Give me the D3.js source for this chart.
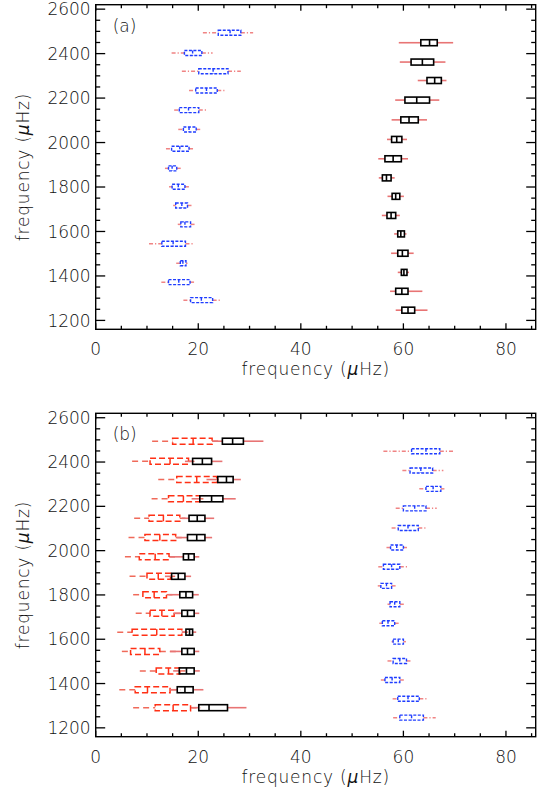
<!DOCTYPE html>
<html>
<head>
<meta charset="utf-8">
<script src="https://cdn.jsdelivr.net/npm/d3@7"></script>
<style>
  body { margin: 0; background: #fff; }
  text { font-family: "DejaVu Sans", sans-serif; font-weight: 300; fill: #111; }
</style>
</head>
<body>
<div id="chart"></div>
<script>
// figure size
const width = 541;
const height = 794;

// mode frequencies (rows), muHz
const freqL0 = [1291, 1372, 1457, 1545, 1632, 1717, 1801, 1884, 1972, 2059, 2146, 2234, 2321, 2403, 2494];
const freqL1 = [1246, 1331, 1416, 1502, 1589, 1672, 1758, 1841, 1927, 2014, 2102, 2191, 2279, 2362, 2449];

// each entry: [whisker low, q1, median, q3, whisker high]
const aBlue = [
  [17.1, 18.5, 20.6, 22.8, 24.2], [12.8, 14.2, 16.2, 18.4, 19.4], [15.7, 16.5, 17.0, 17.6, 17.9],
  [10.4, 12.9, 15.1, 17.5, 19.0], [16.0, 16.6, 17.4, 18.5, 19.4], [15.1, 15.6, 16.8, 17.9, 18.8],
  [14.3, 14.9, 16.1, 17.4, 18.4], [13.5, 14.2, 14.9, 15.8, 16.6], [13.7, 14.8, 16.4, 18.2, 19.0],
  [16.1, 17.1, 18.2, 19.6, 20.7], [15.3, 16.3, 18.1, 20.1, 21.8], [18.2, 19.5, 21.6, 23.7, 25.2],
  [16.8, 20.1, 22.9, 25.8, 28.3], [14.8, 17.3, 18.9, 20.7, 22.8], [20.9, 23.9, 26.2, 28.3, 30.7]
];
const aBlack = [
  [58.5, 59.7, 60.9, 62.2, 64.7], [57.4, 58.5, 59.7, 60.9, 63.7], [58.9, 59.6, 60.1, 60.7, 61.1],
  [57.6, 58.9, 59.8, 60.9, 62.0], [58.2, 58.9, 59.5, 60.2, 60.6], [55.8, 56.8, 57.6, 58.5, 59.3],
  [56.9, 57.8, 58.5, 59.3, 60.1], [55.2, 55.9, 56.7, 57.6, 58.3], [55.1, 56.4, 58.0, 59.6, 60.9],
  [56.8, 57.7, 58.7, 59.7, 60.7], [57.7, 59.5, 61.1, 62.9, 64.6], [58.4, 60.3, 62.6, 65.1, 67.0],
  [62.8, 64.6, 66.1, 67.4, 68.4], [59.3, 61.5, 63.7, 65.9, 68.2], [59.1, 63.4, 65.1, 66.6, 69.7]
];
const bRed = [
  [7.3, 11.6, 15.1, 18.5, 20.5], [4.6, 7.7, 10.1, 14.5, 16.5], [8.6, 11.8, 14.2, 16.4, 17.5],
  [5.1, 6.8, 9.6, 12.5, 16.0], [4.2, 7.1, 11.9, 16.8, 18.0], [7.8, 10.6, 12.9, 15.3, 16.5],
  [7.3, 9.2, 11.4, 13.8, 15.5], [6.6, 10.0, 12.2, 14.6, 15.5], [5.7, 8.5, 11.6, 14.3, 16.0],
  [6.4, 9.6, 12.5, 15.6, 17.0], [7.5, 10.4, 13.2, 16.4, 17.5], [10.9, 14.2, 17.1, 20.3, 21.0],
  [12.2, 15.8, 19.7, 23.6, 24.0], [7.1, 10.6, 14.5, 18.1, 19.5], [11.0, 15.0, 19.0, 22.7, 24.0]
];
const bBlack = [
  [18.7, 20.1, 22.1, 25.7, 29.4], [14.5, 15.9, 17.4, 19.0, 21.0], [15.1, 16.3, 17.7, 19.2, 20.3],
  [14.5, 16.8, 17.9, 19.2, 20.2], [16.8, 17.6, 18.3, 18.9, 19.6], [15.1, 16.8, 17.9, 19.2, 20.2],
  [14.2, 16.4, 17.6, 18.9, 20.1], [13.5, 14.8, 16.1, 17.4, 18.6], [14.5, 17.1, 18.1, 19.2, 20.2],
  [15.8, 17.9, 19.7, 21.3, 22.7], [16.8, 18.2, 19.8, 21.3, 23.1], [18.7, 20.3, 22.6, 24.8, 27.3],
  [21.6, 23.8, 25.5, 26.8, 28.3], [17.4, 18.9, 20.8, 22.6, 24.7], [22.9, 24.7, 26.7, 28.8, 32.7]
];
const bBlue = [
  [58.0, 59.3, 61.6, 63.9, 66.3], [57.9, 58.9, 60.9, 63.1, 64.5], [55.6, 56.4, 57.8, 59.3, 60.2],
  [56.9, 58.0, 59.3, 60.6, 61.6], [57.7, 58.0, 59.0, 60.0, 60.5], [55.3, 55.9, 57.0, 58.3, 59.2],
  [56.9, 57.4, 58.3, 59.3, 60.2], [55.0, 55.6, 56.7, 57.7, 58.5], [55.1, 56.1, 57.7, 59.3, 60.8],
  [56.7, 57.5, 58.7, 60.0, 60.7], [57.7, 59.0, 60.9, 62.9, 64.3], [58.5, 60.0, 62.2, 64.4, 66.5],
  [63.1, 64.4, 65.8, 67.3, 68.0], [59.8, 61.3, 63.4, 65.7, 67.8], [56.1, 61.6, 64.4, 67.1, 70.0]
];

const xTicks = [0, 20, 40, 60, 80];
const yTicks = [1200, 1400, 1600, 1800, 2000, 2200, 2400, 2600];

// box styles
const styles = {
  black: { box: "#000", boxW: 1.6, boxDash: null, h: 6, wh: "#e87474", whW: 1.6, whDash: null },
  blue:  { box: "#1f3dff", boxW: 1.4, boxDash: "3,1.5", h: 5, wh: "#f08484", whW: 1.5, whDash: "4,2,1.2,2" },
  red:   { box: "#ff3015", boxW: 1.5, boxDash: "6,3", h: 6, wh: "#f06a5a", whW: 1.5, whDash: "6,4" }
};

const svg = d3.select("div#chart")
    .append("svg")
    .attr("width", width)
    .attr("height", height);

const margin = { left: 95.7, right: 5.3 };

const x = d3.scaleLinear()
    .domain([0, 85.8])
    .range([margin.left, width - margin.right]);

// "frequency (μHz)" with italic mu
function axisTitle(t) {
    t.append("tspan").text("frequency (");
    t.append("tspan").attr("font-style", "italic").text("\u03bc");
    t.append("tspan").text("Hz)");
}

function drawBoxes(g, y, freqs, data, st) {
    const rows = g.append("g").selectAll("g")
        .data(data.map((d, i) => ({ f: freqs[i], v: d })))
        .enter()
        .append("g");

    // whiskers
    rows.append("line")
        .attr("x1", d => x(d.v[0])).attr("x2", d => x(d.v[1]))
        .attr("y1", d => y(d.f)).attr("y2", d => y(d.f))
        .attr("stroke", st.wh).attr("stroke-width", st.whW)
        .attr("stroke-dasharray", st.whDash);
    rows.append("line")
        .attr("x1", d => x(d.v[3])).attr("x2", d => x(d.v[4]))
        .attr("y1", d => y(d.f)).attr("y2", d => y(d.f))
        .attr("stroke", st.wh).attr("stroke-width", st.whW)
        .attr("stroke-dasharray", st.whDash);

    // box + median
    rows.append("rect")
        .attr("x", d => x(d.v[1]))
        .attr("width", d => x(d.v[3]) - x(d.v[1]))
        .attr("y", d => y(d.f) - st.h / 2)
        .attr("height", st.h)
        .attr("fill", "none")
        .attr("stroke", st.box).attr("stroke-width", st.boxW)
        .attr("stroke-dasharray", st.boxDash);
    rows.append("line")
        .attr("x1", d => x(d.v[2])).attr("x2", d => x(d.v[2]))
        .attr("y1", d => y(d.f) - st.h / 2).attr("y2", d => y(d.f) + st.h / 2)
        .attr("stroke", st.box).attr("stroke-width", st.boxW)
        .attr("stroke-dasharray", st.boxDash);
}

function drawPanel(top, bottom, label, groups) {
    const g = svg.append("g");
    const y = d3.scaleLinear()
        .domain([1160, 2620])
        .range([bottom, top]);

    groups.forEach(gr => drawBoxes(g, y, gr.freqs, gr.data, styles[gr.style]));

    // frame
    g.append("rect")
        .attr("x", x.range()[0]).attr("y", top)
        .attr("width", x.range()[1] - x.range()[0])
        .attr("height", bottom - top)
        .attr("fill", "none").attr("stroke", "#000").attr("stroke-width", 1.4);

    // ticks (inward, on all four sides)
    const xMinor = d3.range(0, 86, 5);
    const yMinor = d3.range(1200, 2620, 50);
    const tk = g.append("g").attr("stroke", "#000").attr("stroke-width", 1.3);
    xMinor.forEach(v => {
        const len = v % 20 === 0 ? 6 : 3.5;
        tk.append("line").attr("x1", x(v)).attr("x2", x(v)).attr("y1", bottom).attr("y2", bottom - len);
        tk.append("line").attr("x1", x(v)).attr("x2", x(v)).attr("y1", top).attr("y2", top + len);
    });
    yMinor.forEach(v => {
        const len = v % 200 === 0 ? 9.5 : 4.5;
        tk.append("line").attr("y1", y(v)).attr("y2", y(v)).attr("x1", x.range()[0]).attr("x2", x.range()[0] + len);
        tk.append("line").attr("y1", y(v)).attr("y2", y(v)).attr("x1", x.range()[1]).attr("x2", x.range()[1] - len);
    });

    // tick labels
    g.selectAll(".xl").data(xTicks).enter().append("text")
        .attr("x", d => x(d)).attr("y", bottom + 26)
        .attr("text-anchor", "middle").attr("font-size", 17)
        .text(d => d);
    g.selectAll(".yl").data(yTicks).enter().append("text")
        .attr("x", x.range()[0] - 5).attr("y", d => y(d))
        .attr("dy", "0.36em")
        .attr("text-anchor", "end").attr("font-size", 17)
        .text(d => d);

    // axis titles
    g.append("text")
        .attr("x", (x.range()[0] + x.range()[1]) / 2).attr("y", bottom + 46)
        .attr("text-anchor", "middle").attr("font-size", 17)
        .attr("letter-spacing", 0.8)
        .call(axisTitle);
    g.append("text")
        .attr("transform", `translate(29,${(top + bottom) / 2}) rotate(-90)`)
        .attr("text-anchor", "middle").attr("font-size", 17)
        .attr("letter-spacing", 0.8)
        .call(axisTitle);

    g.append("text")
        .attr("x", x.range()[0] + 17).attr("y", top + 27)
        .attr("font-size", 17)
        .text(label);
}

drawPanel(4.7, 329.3, "(a)", [
    { freqs: freqL0, data: aBlue, style: "blue" },
    { freqs: freqL1, data: aBlack, style: "black" }
]);

drawPanel(413.3, 736.7, "(b)", [
    { freqs: freqL0, data: bRed, style: "red" },
    { freqs: freqL0, data: bBlack, style: "black" },
    { freqs: freqL1, data: bBlue, style: "blue" }
]);
</script>
</body>
</html>
